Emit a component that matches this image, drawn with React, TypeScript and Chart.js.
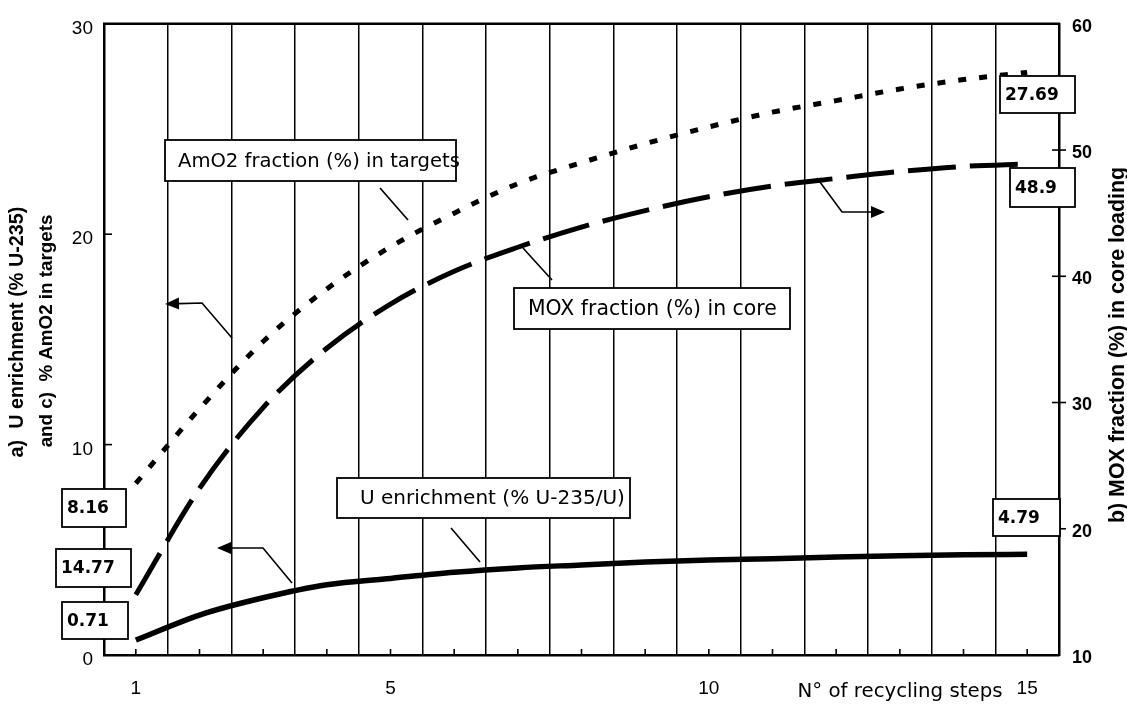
import React, { useEffect, useRef } from 'react';
import { Chart, registerables } from 'chart.js';

Chart.register(...registerables);

// ---------- data ----------
const steps = ['1', '2', '3', '4', '5', '6', '7', '8', '9', '10', '11', '12', '13', '14', '15'];
const shownStepLabels = ['1', '5', '10', '15'];

// c) AmO2 fraction (%) in targets  (left axis)
const amo2Targets = [8.16, 11.7, 14.9, 17.4, 19.4, 21.0, 22.4, 23.4, 24.3, 25.1, 25.8, 26.35, 26.9, 27.35, 27.69];
// b) MOX fraction (%) in core loading  (right axis)
const moxCore = [14.77, 23.2, 29.6, 34.3, 37.8, 40.4, 42.3, 43.9, 45.2, 46.3, 47.15, 47.75, 48.3, 48.7, 48.9];
// a) U enrichment (% U-235/U)  (left axis)
const uEnrichment = [0.71, 1.9, 2.72, 3.34, 3.64, 3.93, 4.14, 4.28, 4.42, 4.51, 4.58, 4.66, 4.72, 4.76, 4.79];

const leftAxisRange = [0, 30];
const rightAxisRange = [10, 60];
const axisStep = 10;
const leftInnerTicks = [10, 20];
const rightCrossTicks = [20, 30, 40, 50];

const leftTitleLines = ['a)  U enrichment (% U-235)', 'and c)  % AmO2 in targets'];
const rightTitle = 'b) MOX fraction (%) in core loading';
const xTitle = 'N° of recycling steps';

const calloutTexts = ['AmO2 fraction (%) in targets', 'MOX fraction (%) in core', 'U enrichment (% U-235/U)'];

// ---------- layout (pixels) ----------
const W = 1127;
const H = 708;

const valueBoxes = [
  { value: amo2Targets[0], x: 62, y: 489, w: 64, h: 38 },
  { value: moxCore[0], x: 56, y: 549, w: 75, h: 38 },
  { value: uEnrichment[0], x: 62, y: 602, w: 66, h: 37 },
  { value: amo2Targets[amo2Targets.length - 1], x: 1000, y: 76, w: 75, h: 37 },
  { value: moxCore[moxCore.length - 1], x: 1010, y: 168, w: 65, h: 39 },
  { value: uEnrichment[uEnrichment.length - 1], x: 993, y: 499, w: 67, h: 37 },
];

const calloutBoxes = [
  { text: calloutTexts[0], x: 165, y: 140, w: 291, h: 41, tx: 178, tw: 282 },
  { text: calloutTexts[1], x: 514, y: 288, w: 276, h: 41, tx: 528, tw: 249 },
  { text: calloutTexts[2], x: 337, y: 478, w: 293, h: 40, tx: 360, tw: 265 },
];

const leaderLines = [
  [[380, 188], [408, 220]],
  [[523, 248], [552, 280]],
  [[451, 528], [480, 562]],
];

const arrows = [
  [[232, 338], [202, 303], [165, 304]],
  [[817, 178], [842, 212], [885, 212]],
  [[292, 583], [263, 548], [217, 548]],
];

function fitFont(ctx: CanvasRenderingContext2D, text: string, width: number, weight: string, family: string) {
  ctx.font = `${weight} 100px ${family}`;
  const size = (100 * width) / ctx.measureText(text).width;
  return `${weight} ${size.toFixed(2)}px ${family}`;
}

const annotationPlugin = {
  id: 'paperAnnotations',
  afterDraw(chart: any) {
    const ctx: CanvasRenderingContext2D = chart.ctx;
    const { left, right, top, bottom } = chart.chartArea;
    const xs = chart.scales.x;
    const yl = chart.scales.y;
    const yr = chart.scales.y1;
    ctx.save();
    ctx.strokeStyle = '#000';
    ctx.fillStyle = '#000';
    ctx.lineCap = 'butt';

    // top frame line
    ctx.lineWidth = 2.5;
    ctx.beginPath();
    ctx.moveTo(left - 1, top);
    ctx.lineTo(right + 1, top);
    ctx.stroke();

    // tick marks
    ctx.lineWidth = 1.6;
    steps.forEach((_, i) => {
      const x = xs.getPixelForValue(i);
      ctx.beginPath();
      ctx.moveTo(x, bottom);
      ctx.lineTo(x, bottom - 6);
      ctx.stroke();
    });
    leftInnerTicks.forEach((v) => {
      const y = yl.getPixelForValue(v);
      ctx.beginPath();
      ctx.moveTo(left, y);
      ctx.lineTo(left + 8, y);
      ctx.stroke();
    });
    rightCrossTicks.forEach((v) => {
      const y = yr.getPixelForValue(v);
      ctx.beginPath();
      ctx.moveTo(right - 7, y);
      ctx.lineTo(right + 7, y);
      ctx.stroke();
    });

    // leader lines
    ctx.lineWidth = 1.6;
    leaderLines.forEach((seg) => {
      ctx.beginPath();
      ctx.moveTo(seg[0][0], seg[0][1]);
      ctx.lineTo(seg[1][0], seg[1][1]);
      ctx.stroke();
    });

    // arrows
    arrows.forEach((pts) => {
      const n = pts.length;
      const [tx, ty] = pts[n - 1];
      const [px, py] = pts[n - 2];
      const ang = Math.atan2(ty - py, tx - px);
      const headLen = 14;
      const headW = 6;
      const bx = tx - headLen * Math.cos(ang);
      const by = ty - headLen * Math.sin(ang);
      ctx.beginPath();
      ctx.moveTo(pts[0][0], pts[0][1]);
      for (let i = 1; i < n - 1; i++) ctx.lineTo(pts[i][0], pts[i][1]);
      ctx.lineTo(bx, by);
      ctx.stroke();
      ctx.beginPath();
      ctx.moveTo(tx, ty);
      ctx.lineTo(bx + headW * Math.sin(ang), by - headW * Math.cos(ang));
      ctx.lineTo(bx - headW * Math.sin(ang), by + headW * Math.cos(ang));
      ctx.closePath();
      ctx.fill();
    });

    // callout boxes
    calloutBoxes.forEach((b) => {
      ctx.fillStyle = '#fff';
      ctx.fillRect(b.x, b.y, b.w, b.h);
      ctx.lineWidth = 1.8;
      ctx.strokeRect(b.x, b.y, b.w, b.h);
      ctx.fillStyle = '#000';
      ctx.font = fitFont(ctx, b.text, b.tw, 'normal', "'DejaVu Sans'");
      ctx.textAlign = 'left';
      ctx.textBaseline = 'middle';
      ctx.fillText(b.text, b.tx, b.y + b.h / 2 + 1);
    });

    // value boxes
    valueBoxes.forEach((b) => {
      ctx.fillStyle = '#fff';
      ctx.fillRect(b.x, b.y, b.w, b.h);
      ctx.lineWidth = 1.8;
      ctx.strokeRect(b.x, b.y, b.w, b.h);
      ctx.fillStyle = '#000';
      ctx.font = "bold 17px 'DejaVu Sans'";
      ctx.textAlign = 'left';
      ctx.textBaseline = 'middle';
      ctx.fillText(String(b.value), b.x + 5, b.y + b.h / 2 + 1);
    });

    // axis titles
    ctx.fillStyle = '#000';
    ctx.textAlign = 'center';
    ctx.textBaseline = 'middle';
    const leftCenters = [[18, 332, 251], [47, 331, 233]];
    leftTitleLines.forEach((t, i) => {
      const [cx, cy, w] = leftCenters[i];
      ctx.save();
      ctx.translate(cx, cy);
      ctx.rotate(-Math.PI / 2);
      ctx.font = fitFont(ctx, t, w, 'bold', "'Liberation Sans'");
      ctx.fillText(t, 0, 0);
      ctx.restore();
    });
    ctx.save();
    ctx.translate(1118, 345);
    ctx.rotate(-Math.PI / 2);
    ctx.font = fitFont(ctx, rightTitle, 356, 'bold', "'Liberation Sans'");
    ctx.fillText(rightTitle, 0, 0);
    ctx.restore();

    ctx.font = fitFont(ctx, xTitle, 205, 'normal', "'DejaVu Sans'");
    ctx.fillText(xTitle, 900, 692);

    ctx.restore();
  },
};

export default function App() {
  const canvasRef = useRef<HTMLCanvasElement | null>(null);

  useEffect(() => {
    const canvas = canvasRef.current;
    if (!canvas) return;
    const tickFont = { family: "'Liberation Sans'", size: 19 };
    const chart = new Chart(canvas, {
      type: 'line',
      data: {
        labels: steps,
        datasets: [
          {
            label: 'AmO2 fraction (%) in targets',
            data: amo2Targets,
            yAxisID: 'y',
            borderColor: '#000',
            borderWidth: 5,
            borderDash: [8, 13],
            pointRadius: 0,
            fill: false,
            cubicInterpolationMode: 'monotone',
          },
          {
            label: 'MOX fraction (%) in core',
            data: moxCore,
            yAxisID: 'y1',
            borderColor: '#000',
            borderWidth: 5,
            borderDash: [48, 14],
            pointRadius: 0,
            fill: false,
            cubicInterpolationMode: 'monotone',
          },
          {
            label: 'U enrichment (% U-235/U)',
            data: uEnrichment,
            yAxisID: 'y',
            borderColor: '#000',
            borderWidth: 5.5,
            pointRadius: 0,
            fill: false,
            cubicInterpolationMode: 'monotone',
          },
        ],
      },
      options: {
        responsive: false,
        devicePixelRatio: 1,
        animation: false,
        layout: { padding: { top: 13, left: 0, right: 0, bottom: 0 } },
        plugins: { legend: { display: false }, tooltip: { enabled: false } },
        scales: {
          x: {
            type: 'category',
            offset: true,
            grid: { display: true, offset: true, color: '#000', lineWidth: 1.5, drawTicks: false },
            border: { display: true, color: '#000', width: 2.5 },
            ticks: {
              autoSkip: false,
              maxRotation: 0,
              padding: 22,
              color: '#000',
              font: tickFont,
              callback: (_v: any, i: number) => (shownStepLabels.includes(steps[i]) ? steps[i] : ''),
            },
            afterFit: (s: any) => {
              s.height = H - 655;
            },
          },
          y: {
            type: 'linear',
            position: 'left',
            min: leftAxisRange[0],
            max: leftAxisRange[1],
            grid: { display: false, drawTicks: false },
            border: { display: true, color: '#000', width: 2.5 },
            ticks: { stepSize: axisStep, padding: 11, labelOffset: 5, color: '#000', font: tickFont },
            afterFit: (s: any) => {
              s.width = 104;
            },
          },
          y1: {
            type: 'linear',
            position: 'right',
            min: rightAxisRange[0],
            max: rightAxisRange[1],
            grid: { display: false, drawTicks: false },
            border: { display: true, color: '#000', width: 2.5 },
            ticks: { stepSize: axisStep, padding: 13, labelOffset: 3, color: '#000', font: { ...tickFont, size: 18, weight: 'bold' } },
            afterFit: (s: any) => {
              s.width = W - 1059;
            },
          },
        },
      },
      plugins: [annotationPlugin],
    } as any);
    return () => chart.destroy();
  }, []);

  return (
    <div style={{ position: 'absolute', left: 0, top: 0, width: W, height: H, background: '#fff' }}>
      <canvas ref={canvasRef} width={W} height={H} style={{ display: 'block' }} />
    </div>
  );
}
